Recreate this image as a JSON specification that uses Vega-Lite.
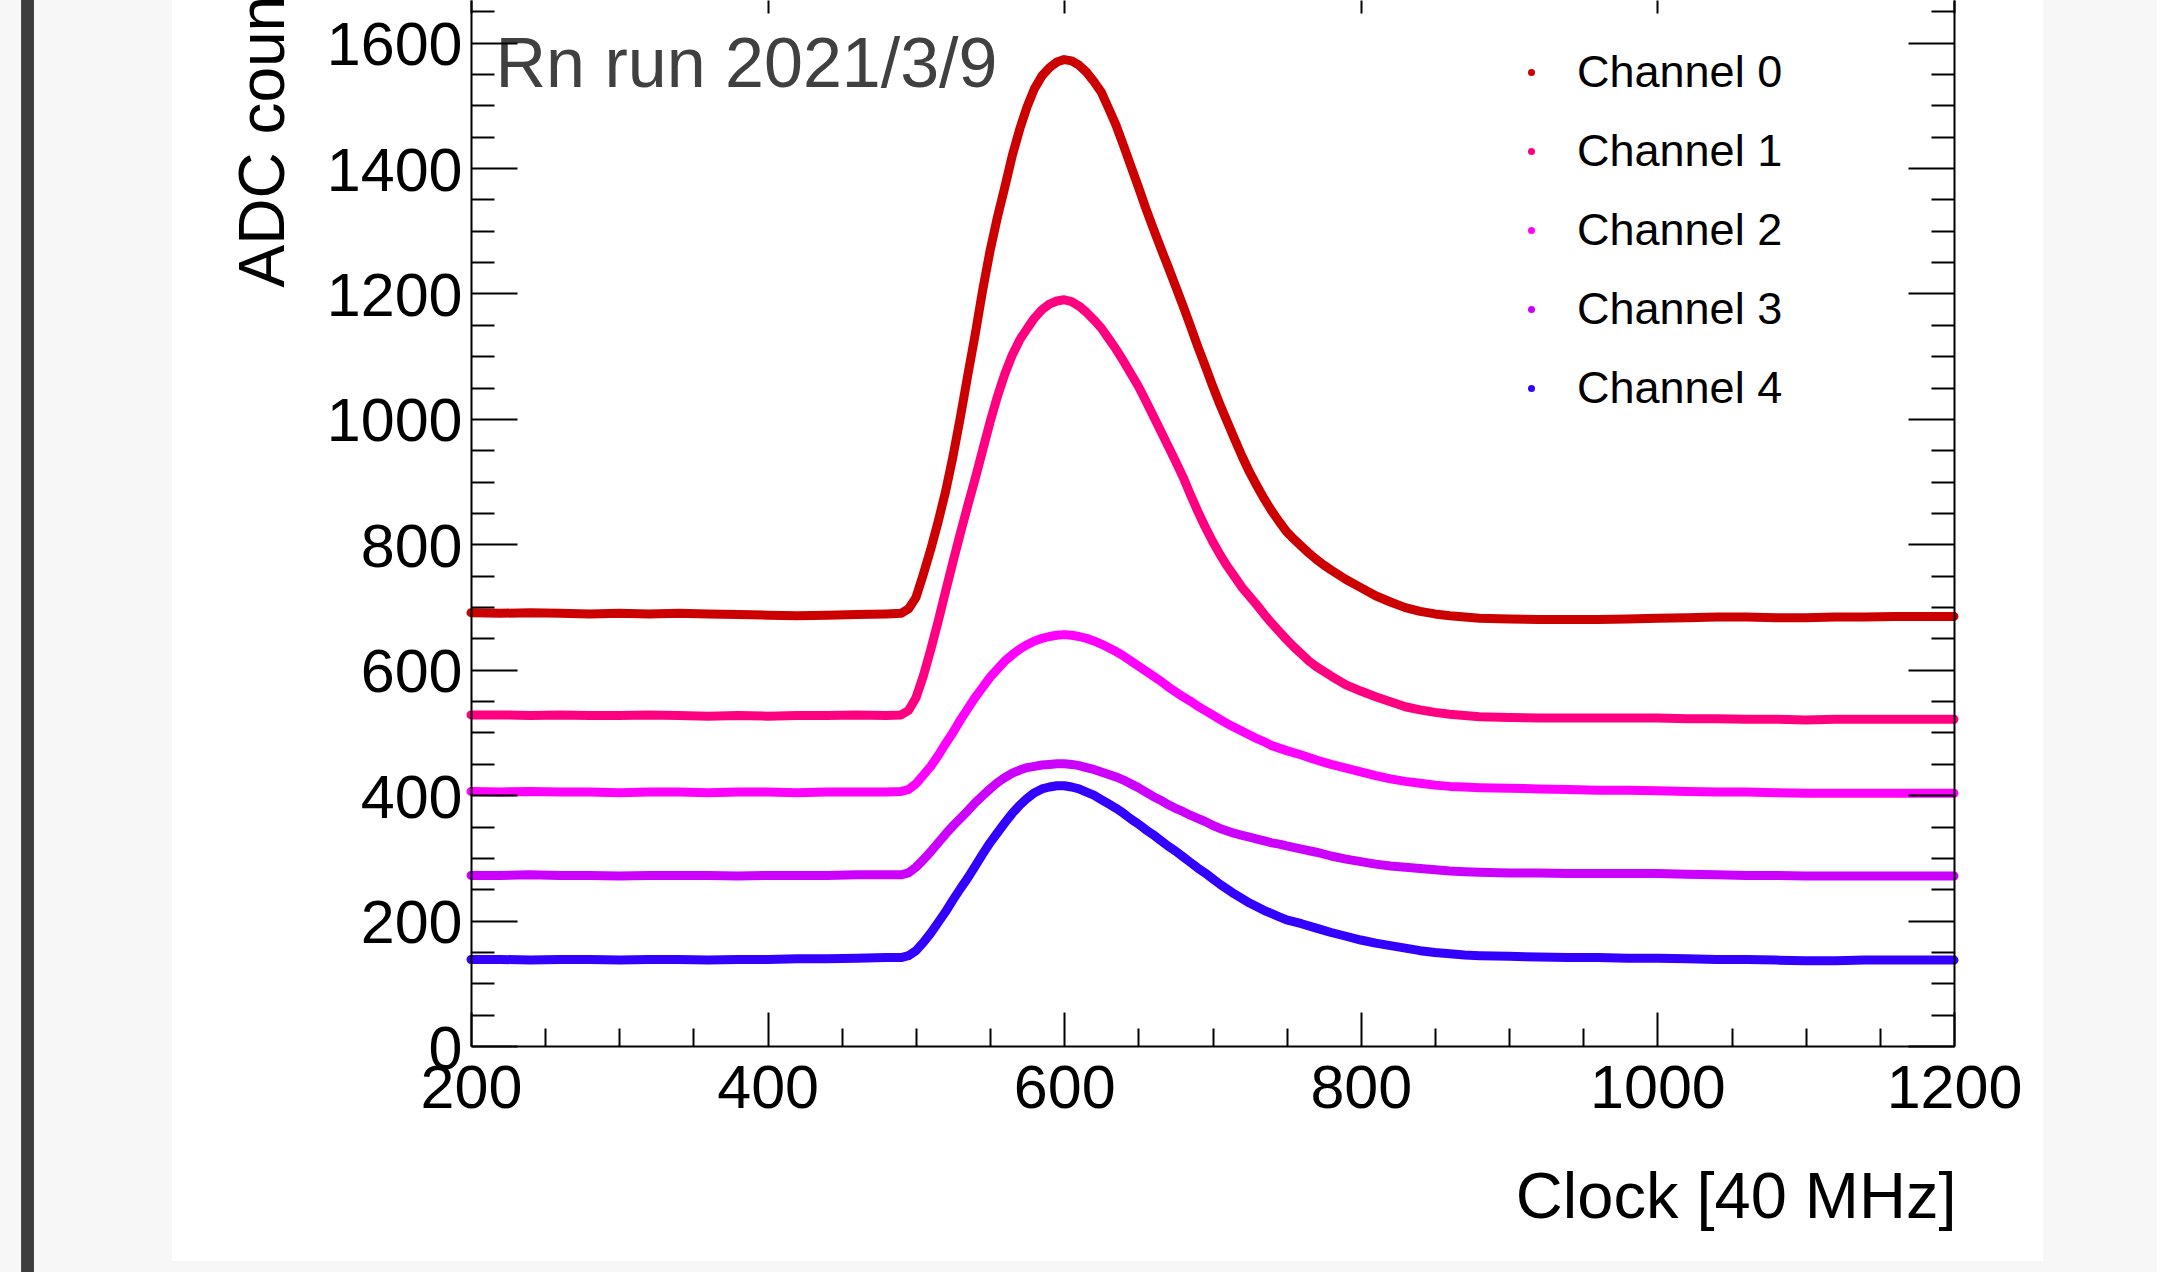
{
"$schema": "https://vega.github.io/schema/vega-lite/v6.json",
"width": 1483,
"height": 1046,
"autosize": {"type": "none"},
"padding": {"left": 471, "top": 0, "right": 203, "bottom": 226},
"background": "#ffffff",
"config": {
  "view": {"stroke": null},
  "font": "Liberation Sans",
  "axis": {"domainColor": "#000000", "domainWidth": 2, "tickColor": "#000000", "tickWidth": 2, "grid": false, "labelFont": "Liberation Sans", "labelFontSize": 61, "labelColor": "#000000", "titleFont": "Liberation Sans", "titleFontWeight": "normal", "titleColor": "#000000", "labelFlush": false, "labelOverlap": false, "labelBound": false, "zindex": 1, "format": "d"}
},
"datasets": {
"sig": [
{"c":0,"x":200,"y":691},{"c":0,"x":220,"y":690},{"c":0,"x":240,"y":691},{"c":0,"x":260,"y":690},{"c":0,"x":280,"y":689},{"c":0,"x":300,"y":690},{"c":0,"x":320,"y":689},{"c":0,"x":340,"y":690},{"c":0,"x":360,"y":689},{"c":0,"x":380,"y":688},{"c":0,"x":400,"y":687},{"c":0,"x":420,"y":686},{"c":0,"x":440,"y":687},{"c":0,"x":460,"y":688},{"c":0,"x":480,"y":689},{"c":0,"x":490,"y":690},{"c":0,"x":495,"y":697},{"c":0,"x":500,"y":715},{"c":0,"x":505,"y":752},{"c":0,"x":510,"y":792},{"c":0,"x":515,"y":836},{"c":0,"x":520,"y":884},{"c":0,"x":525,"y":940},{"c":0,"x":530,"y":1003},{"c":0,"x":535,"y":1070},{"c":0,"x":540,"y":1135},{"c":0,"x":545,"y":1205},{"c":0,"x":550,"y":1268},{"c":0,"x":555,"y":1322},{"c":0,"x":560,"y":1370},{"c":0,"x":565,"y":1420},{"c":0,"x":570,"y":1462},{"c":0,"x":575,"y":1498},{"c":0,"x":580,"y":1527},{"c":0,"x":585,"y":1547},{"c":0,"x":590,"y":1560},{"c":0,"x":595,"y":1569},{"c":0,"x":600,"y":1573},{"c":0,"x":605,"y":1571},{"c":0,"x":610,"y":1564},{"c":0,"x":615,"y":1553},{"c":0,"x":620,"y":1538},{"c":0,"x":625,"y":1521},{"c":0,"x":630,"y":1495},{"c":0,"x":635,"y":1468},{"c":0,"x":640,"y":1436},{"c":0,"x":645,"y":1403},{"c":0,"x":650,"y":1370},{"c":0,"x":655,"y":1336},{"c":0,"x":660,"y":1304},{"c":0,"x":665,"y":1273},{"c":0,"x":670,"y":1243},{"c":0,"x":675,"y":1212},{"c":0,"x":680,"y":1181},{"c":0,"x":685,"y":1149},{"c":0,"x":690,"y":1116},{"c":0,"x":695,"y":1085},{"c":0,"x":700,"y":1053},{"c":0,"x":705,"y":1023},{"c":0,"x":710,"y":995},{"c":0,"x":715,"y":967},{"c":0,"x":720,"y":940},{"c":0,"x":725,"y":915},{"c":0,"x":730,"y":893},{"c":0,"x":735,"y":872},{"c":0,"x":740,"y":853},{"c":0,"x":745,"y":836},{"c":0,"x":750,"y":820},{"c":0,"x":755,"y":808},{"c":0,"x":760,"y":797},{"c":0,"x":765,"y":786},{"c":0,"x":770,"y":776},{"c":0,"x":775,"y":767},{"c":0,"x":780,"y":759},{"c":0,"x":790,"y":744},{"c":0,"x":800,"y":731},{"c":0,"x":810,"y":718},{"c":0,"x":820,"y":708},{"c":0,"x":830,"y":699},{"c":0,"x":840,"y":693},{"c":0,"x":850,"y":689},{"c":0,"x":860,"y":686},{"c":0,"x":870,"y":684},{"c":0,"x":880,"y":682},{"c":0,"x":900,"y":681},{"c":0,"x":920,"y":680},{"c":0,"x":940,"y":680},{"c":0,"x":960,"y":680},{"c":0,"x":980,"y":681},{"c":0,"x":1000,"y":682},{"c":0,"x":1020,"y":683},{"c":0,"x":1040,"y":684},{"c":0,"x":1060,"y":684},{"c":0,"x":1080,"y":683},{"c":0,"x":1100,"y":683},{"c":0,"x":1120,"y":684},{"c":0,"x":1140,"y":684},{"c":0,"x":1160,"y":685},{"c":0,"x":1180,"y":685},{"c":0,"x":1200,"y":685},
{"c":1,"x":200,"y":528},{"c":1,"x":220,"y":528},{"c":1,"x":240,"y":527},{"c":1,"x":260,"y":528},{"c":1,"x":280,"y":527},{"c":1,"x":300,"y":527},{"c":1,"x":320,"y":528},{"c":1,"x":340,"y":527},{"c":1,"x":360,"y":526},{"c":1,"x":380,"y":527},{"c":1,"x":400,"y":526},{"c":1,"x":420,"y":527},{"c":1,"x":440,"y":527},{"c":1,"x":460,"y":528},{"c":1,"x":480,"y":527},{"c":1,"x":490,"y":528},{"c":1,"x":495,"y":535},{"c":1,"x":500,"y":555},{"c":1,"x":505,"y":590},{"c":1,"x":510,"y":632},{"c":1,"x":515,"y":677},{"c":1,"x":520,"y":725},{"c":1,"x":525,"y":772},{"c":1,"x":530,"y":818},{"c":1,"x":535,"y":862},{"c":1,"x":540,"y":905},{"c":1,"x":545,"y":950},{"c":1,"x":550,"y":995},{"c":1,"x":555,"y":1036},{"c":1,"x":560,"y":1072},{"c":1,"x":565,"y":1102},{"c":1,"x":570,"y":1126},{"c":1,"x":575,"y":1144},{"c":1,"x":580,"y":1161},{"c":1,"x":585,"y":1174},{"c":1,"x":590,"y":1183},{"c":1,"x":595,"y":1188},{"c":1,"x":600,"y":1190},{"c":1,"x":605,"y":1187},{"c":1,"x":610,"y":1180},{"c":1,"x":615,"y":1170},{"c":1,"x":620,"y":1158},{"c":1,"x":625,"y":1145},{"c":1,"x":630,"y":1128},{"c":1,"x":635,"y":1111},{"c":1,"x":640,"y":1092},{"c":1,"x":645,"y":1072},{"c":1,"x":650,"y":1052},{"c":1,"x":655,"y":1029},{"c":1,"x":660,"y":1005},{"c":1,"x":665,"y":981},{"c":1,"x":670,"y":957},{"c":1,"x":675,"y":933},{"c":1,"x":680,"y":908},{"c":1,"x":685,"y":880},{"c":1,"x":690,"y":853},{"c":1,"x":695,"y":828},{"c":1,"x":700,"y":805},{"c":1,"x":705,"y":784},{"c":1,"x":710,"y":765},{"c":1,"x":715,"y":748},{"c":1,"x":720,"y":731},{"c":1,"x":725,"y":717},{"c":1,"x":730,"y":703},{"c":1,"x":735,"y":688},{"c":1,"x":740,"y":674},{"c":1,"x":745,"y":661},{"c":1,"x":750,"y":648},{"c":1,"x":755,"y":636},{"c":1,"x":760,"y":625},{"c":1,"x":765,"y":614},{"c":1,"x":770,"y":605},{"c":1,"x":780,"y":590},{"c":1,"x":790,"y":576},{"c":1,"x":800,"y":566},{"c":1,"x":810,"y":557},{"c":1,"x":820,"y":549},{"c":1,"x":830,"y":541},{"c":1,"x":840,"y":536},{"c":1,"x":850,"y":532},{"c":1,"x":860,"y":529},{"c":1,"x":870,"y":527},{"c":1,"x":880,"y":525},{"c":1,"x":900,"y":524},{"c":1,"x":920,"y":523},{"c":1,"x":940,"y":523},{"c":1,"x":960,"y":523},{"c":1,"x":980,"y":523},{"c":1,"x":1000,"y":523},{"c":1,"x":1020,"y":522},{"c":1,"x":1040,"y":522},{"c":1,"x":1060,"y":521},{"c":1,"x":1080,"y":521},{"c":1,"x":1100,"y":520},{"c":1,"x":1120,"y":521},{"c":1,"x":1140,"y":521},{"c":1,"x":1160,"y":521},{"c":1,"x":1180,"y":521},{"c":1,"x":1200,"y":521},
{"c":2,"x":200,"y":406},{"c":2,"x":220,"y":405},{"c":2,"x":240,"y":406},{"c":2,"x":260,"y":405},{"c":2,"x":280,"y":405},{"c":2,"x":300,"y":404},{"c":2,"x":320,"y":405},{"c":2,"x":340,"y":405},{"c":2,"x":360,"y":404},{"c":2,"x":380,"y":405},{"c":2,"x":400,"y":405},{"c":2,"x":420,"y":404},{"c":2,"x":440,"y":405},{"c":2,"x":460,"y":405},{"c":2,"x":480,"y":405},{"c":2,"x":490,"y":406},{"c":2,"x":495,"y":409},{"c":2,"x":500,"y":418},{"c":2,"x":505,"y":432},{"c":2,"x":510,"y":446},{"c":2,"x":515,"y":463},{"c":2,"x":520,"y":482},{"c":2,"x":525,"y":500},{"c":2,"x":530,"y":520},{"c":2,"x":535,"y":538},{"c":2,"x":540,"y":556},{"c":2,"x":545,"y":572},{"c":2,"x":550,"y":588},{"c":2,"x":555,"y":601},{"c":2,"x":560,"y":614},{"c":2,"x":565,"y":624},{"c":2,"x":570,"y":633},{"c":2,"x":575,"y":640},{"c":2,"x":580,"y":646},{"c":2,"x":585,"y":650},{"c":2,"x":590,"y":653},{"c":2,"x":595,"y":655},{"c":2,"x":600,"y":656},{"c":2,"x":605,"y":655},{"c":2,"x":610,"y":653},{"c":2,"x":615,"y":650},{"c":2,"x":620,"y":646},{"c":2,"x":625,"y":641},{"c":2,"x":630,"y":635},{"c":2,"x":635,"y":629},{"c":2,"x":640,"y":622},{"c":2,"x":645,"y":614},{"c":2,"x":650,"y":606},{"c":2,"x":655,"y":598},{"c":2,"x":660,"y":590},{"c":2,"x":665,"y":582},{"c":2,"x":670,"y":573},{"c":2,"x":675,"y":565},{"c":2,"x":680,"y":557},{"c":2,"x":685,"y":550},{"c":2,"x":690,"y":542},{"c":2,"x":695,"y":535},{"c":2,"x":700,"y":528},{"c":2,"x":705,"y":521},{"c":2,"x":710,"y":514},{"c":2,"x":715,"y":508},{"c":2,"x":720,"y":502},{"c":2,"x":725,"y":496},{"c":2,"x":730,"y":490},{"c":2,"x":735,"y":485},{"c":2,"x":740,"y":479},{"c":2,"x":745,"y":475},{"c":2,"x":750,"y":471},{"c":2,"x":760,"y":464},{"c":2,"x":770,"y":456},{"c":2,"x":780,"y":449},{"c":2,"x":790,"y":443},{"c":2,"x":800,"y":437},{"c":2,"x":810,"y":431},{"c":2,"x":820,"y":426},{"c":2,"x":830,"y":422},{"c":2,"x":840,"y":419},{"c":2,"x":850,"y":416},{"c":2,"x":860,"y":414},{"c":2,"x":870,"y":413},{"c":2,"x":880,"y":412},{"c":2,"x":900,"y":411},{"c":2,"x":920,"y":410},{"c":2,"x":940,"y":409},{"c":2,"x":960,"y":408},{"c":2,"x":980,"y":408},{"c":2,"x":1000,"y":407},{"c":2,"x":1020,"y":406},{"c":2,"x":1040,"y":405},{"c":2,"x":1060,"y":405},{"c":2,"x":1080,"y":404},{"c":2,"x":1100,"y":403},{"c":2,"x":1120,"y":403},{"c":2,"x":1140,"y":403},{"c":2,"x":1160,"y":403},{"c":2,"x":1180,"y":403},{"c":2,"x":1200,"y":403},
{"c":3,"x":200,"y":272},{"c":3,"x":220,"y":272},{"c":3,"x":240,"y":273},{"c":3,"x":260,"y":272},{"c":3,"x":280,"y":272},{"c":3,"x":300,"y":271},{"c":3,"x":320,"y":272},{"c":3,"x":340,"y":272},{"c":3,"x":360,"y":272},{"c":3,"x":380,"y":271},{"c":3,"x":400,"y":272},{"c":3,"x":420,"y":272},{"c":3,"x":440,"y":272},{"c":3,"x":460,"y":273},{"c":3,"x":480,"y":273},{"c":3,"x":490,"y":273},{"c":3,"x":495,"y":276},{"c":3,"x":500,"y":285},{"c":3,"x":505,"y":297},{"c":3,"x":510,"y":310},{"c":3,"x":515,"y":324},{"c":3,"x":520,"y":338},{"c":3,"x":525,"y":351},{"c":3,"x":530,"y":363},{"c":3,"x":535,"y":375},{"c":3,"x":540,"y":388},{"c":3,"x":545,"y":399},{"c":3,"x":550,"y":410},{"c":3,"x":555,"y":420},{"c":3,"x":560,"y":428},{"c":3,"x":565,"y":435},{"c":3,"x":570,"y":440},{"c":3,"x":575,"y":444},{"c":3,"x":580,"y":446},{"c":3,"x":585,"y":448},{"c":3,"x":590,"y":449},{"c":3,"x":595,"y":450},{"c":3,"x":600,"y":450},{"c":3,"x":605,"y":449},{"c":3,"x":610,"y":447},{"c":3,"x":615,"y":444},{"c":3,"x":620,"y":441},{"c":3,"x":625,"y":437},{"c":3,"x":630,"y":433},{"c":3,"x":635,"y":429},{"c":3,"x":640,"y":424},{"c":3,"x":645,"y":418},{"c":3,"x":650,"y":412},{"c":3,"x":655,"y":405},{"c":3,"x":660,"y":398},{"c":3,"x":665,"y":392},{"c":3,"x":670,"y":385},{"c":3,"x":675,"y":379},{"c":3,"x":680,"y":374},{"c":3,"x":685,"y":368},{"c":3,"x":690,"y":363},{"c":3,"x":695,"y":358},{"c":3,"x":700,"y":352},{"c":3,"x":705,"y":347},{"c":3,"x":710,"y":343},{"c":3,"x":715,"y":339},{"c":3,"x":720,"y":336},{"c":3,"x":725,"y":333},{"c":3,"x":730,"y":330},{"c":3,"x":735,"y":327},{"c":3,"x":740,"y":324},{"c":3,"x":745,"y":322},{"c":3,"x":750,"y":319},{"c":3,"x":760,"y":314},{"c":3,"x":770,"y":309},{"c":3,"x":780,"y":303},{"c":3,"x":790,"y":298},{"c":3,"x":800,"y":294},{"c":3,"x":810,"y":290},{"c":3,"x":820,"y":287},{"c":3,"x":830,"y":285},{"c":3,"x":840,"y":283},{"c":3,"x":850,"y":281},{"c":3,"x":860,"y":279},{"c":3,"x":870,"y":278},{"c":3,"x":880,"y":277},{"c":3,"x":900,"y":276},{"c":3,"x":920,"y":276},{"c":3,"x":940,"y":275},{"c":3,"x":960,"y":275},{"c":3,"x":980,"y":275},{"c":3,"x":1000,"y":275},{"c":3,"x":1020,"y":274},{"c":3,"x":1040,"y":273},{"c":3,"x":1060,"y":272},{"c":3,"x":1080,"y":272},{"c":3,"x":1100,"y":271},{"c":3,"x":1120,"y":271},{"c":3,"x":1140,"y":271},{"c":3,"x":1160,"y":271},{"c":3,"x":1180,"y":271},{"c":3,"x":1200,"y":271},
{"c":4,"x":200,"y":138},{"c":4,"x":220,"y":138},{"c":4,"x":240,"y":137},{"c":4,"x":260,"y":138},{"c":4,"x":280,"y":138},{"c":4,"x":300,"y":137},{"c":4,"x":320,"y":138},{"c":4,"x":340,"y":138},{"c":4,"x":360,"y":137},{"c":4,"x":380,"y":138},{"c":4,"x":400,"y":138},{"c":4,"x":420,"y":139},{"c":4,"x":440,"y":139},{"c":4,"x":460,"y":140},{"c":4,"x":480,"y":141},{"c":4,"x":490,"y":141},{"c":4,"x":495,"y":144},{"c":4,"x":500,"y":152},{"c":4,"x":505,"y":165},{"c":4,"x":510,"y":180},{"c":4,"x":515,"y":197},{"c":4,"x":520,"y":214},{"c":4,"x":525,"y":233},{"c":4,"x":530,"y":251},{"c":4,"x":535,"y":268},{"c":4,"x":540,"y":287},{"c":4,"x":545,"y":306},{"c":4,"x":550,"y":324},{"c":4,"x":555,"y":340},{"c":4,"x":560,"y":356},{"c":4,"x":565,"y":371},{"c":4,"x":570,"y":384},{"c":4,"x":575,"y":395},{"c":4,"x":580,"y":404},{"c":4,"x":585,"y":410},{"c":4,"x":590,"y":413},{"c":4,"x":595,"y":415},{"c":4,"x":600,"y":415},{"c":4,"x":605,"y":413},{"c":4,"x":610,"y":410},{"c":4,"x":615,"y":405},{"c":4,"x":620,"y":400},{"c":4,"x":625,"y":393},{"c":4,"x":630,"y":386},{"c":4,"x":635,"y":379},{"c":4,"x":640,"y":371},{"c":4,"x":645,"y":362},{"c":4,"x":650,"y":354},{"c":4,"x":655,"y":345},{"c":4,"x":660,"y":337},{"c":4,"x":665,"y":328},{"c":4,"x":670,"y":319},{"c":4,"x":675,"y":311},{"c":4,"x":680,"y":302},{"c":4,"x":685,"y":293},{"c":4,"x":690,"y":284},{"c":4,"x":695,"y":276},{"c":4,"x":700,"y":267},{"c":4,"x":705,"y":258},{"c":4,"x":710,"y":250},{"c":4,"x":715,"y":242},{"c":4,"x":720,"y":235},{"c":4,"x":725,"y":228},{"c":4,"x":730,"y":222},{"c":4,"x":735,"y":216},{"c":4,"x":740,"y":211},{"c":4,"x":745,"y":206},{"c":4,"x":750,"y":201},{"c":4,"x":760,"y":195},{"c":4,"x":770,"y":188},{"c":4,"x":780,"y":181},{"c":4,"x":790,"y":175},{"c":4,"x":800,"y":169},{"c":4,"x":810,"y":164},{"c":4,"x":820,"y":160},{"c":4,"x":830,"y":156},{"c":4,"x":840,"y":152},{"c":4,"x":850,"y":149},{"c":4,"x":860,"y":147},{"c":4,"x":870,"y":145},{"c":4,"x":880,"y":144},{"c":4,"x":900,"y":143},{"c":4,"x":920,"y":142},{"c":4,"x":940,"y":141},{"c":4,"x":960,"y":141},{"c":4,"x":980,"y":140},{"c":4,"x":1000,"y":140},{"c":4,"x":1020,"y":139},{"c":4,"x":1040,"y":138},{"c":4,"x":1060,"y":138},{"c":4,"x":1080,"y":137},{"c":4,"x":1100,"y":136},{"c":4,"x":1120,"y":136},{"c":4,"x":1140,"y":137},{"c":4,"x":1160,"y":137},{"c":4,"x":1180,"y":137},{"c":4,"x":1200,"y":137}
]
},
"layer": [
{
  "data": {"values": [{"part": "left"}]},
  "mark": {"type": "rect", "color": "#f7f7f7"},
  "encoding": {
    "x": {"datum": -200, "type": "quantitative", "scale": {"domain": [200, 1200], "nice": false, "zero": false}, "axis": null},
    "x2": {"datum": -1.6},
    "y": {"datum": -600, "type": "quantitative", "scale": {"domain": [0, 1668], "nice": false, "zero": false}, "axis": null},
    "y2": {"datum": 1800}
  }
},
{
  "data": {"values": [{"part": "right"}]},
  "mark": {"type": "rect", "color": "#f7f7f7"},
  "encoding": {
    "x": {"datum": 1260, "type": "quantitative", "scale": {"domain": [200, 1200], "nice": false, "zero": false}, "axis": null},
    "x2": {"datum": 1400},
    "y": {"datum": -600, "type": "quantitative", "scale": {"domain": [0, 1668], "nice": false, "zero": false}, "axis": null},
    "y2": {"datum": 1800}
  }
},
{
  "data": {"values": [{"part": "bottom"}]},
  "mark": {"type": "rect", "color": "#f7f7f7"},
  "encoding": {
    "x": {"datum": -200, "type": "quantitative", "scale": {"domain": [200, 1200], "nice": false, "zero": false}, "axis": null},
    "x2": {"datum": 1400},
    "y": {"datum": -600, "type": "quantitative", "scale": {"domain": [0, 1668], "nice": false, "zero": false}, "axis": null},
    "y2": {"datum": -342.7}
  }
},
{
  "data": {"values": [{"part": "bar"}]},
  "mark": {"type": "rect", "color": "#3c3e3d"},
  "encoding": {
    "x": {"datum": -103.4, "type": "quantitative", "scale": {"domain": [200, 1200], "nice": false, "zero": false}, "axis": null},
    "x2": {"datum": -94.7},
    "y": {"datum": -600, "type": "quantitative", "scale": {"domain": [0, 1668], "nice": false, "zero": false}, "axis": null},
    "y2": {"datum": 1800}
  }
},
{
  "data": {"name": "sig"},
  "mark": {"type": "line", "strokeWidth": 9, "strokeCap": "round", "strokeJoin": "round"},
  "encoding": {
    "x": {"field": "x", "type": "quantitative", "scale": {"domain": [200, 1200], "nice": false, "zero": false},
      "axis": {"orient": "bottom", "zindex": 1, "format": "d", "values": [200, 400, 600, 800, 1000, 1200], "ticks": false, "tickSize": 0, "labelPadding": 13, "domain": true,
        "title": "Clock [40 MHz]", "titleFontSize": 65, "titleAlign": "right", "titleBaseline": "alphabetic", "titleX": 1485, "titleY": 171, "titleAngle": 0}},
    "y": {"field": "y", "type": "quantitative", "scale": {"domain": [0, 1668], "nice": false, "zero": false},
      "axis": {"orient": "left", "zindex": 1, "format": "d", "values": [0, 200, 400, 600, 800, 1000, 1200, 1400, 1600], "ticks": false, "tickSize": 0, "labelPadding": 9, "labelOffset": 4, "domain": true,
        "title": "ADC counts", "titleFontSize": 64, "titleAngle": 270, "titleAlign": "left", "titleBaseline": "alphabetic", "titleX": -188, "titleY": 287}},
    "color": {"field": "c", "type": "nominal",
      "scale": {"domain": [0, 1, 2, 3, 4], "range": ["#cc0000", "#ff0080", "#ff00ff", "#cc00ff", "#3300ff"]},
      "legend": {"orient": "none", "legendX": 1038, "legendY": 50, "title": null, "padding": 0, "symbolType": "circle", "symbolSize": 49, "symbolStrokeWidth": 0,
        "labelFont": "Liberation Sans", "labelFontSize": 45, "labelColor": "#000000", "labelOffset": 23, "labelLimit": 0, "rowPadding": 33, "labelExpr": "'Channel ' + datum.label", "zindex": 1,
        "encode": {"symbols": {"update": {"fill": {"scale": "color", "field": "value"}, "stroke": {"value": "transparent"}}}}}}
  }
},
{
  "data": {"values": [{"label": "Rn run 2021/3/9"}]},
  "mark": {"type": "text", "align": "left", "baseline": "alphabetic", "fontSize": 70, "font": "Liberation Sans", "color": "#404040"},
  "encoding": {
    "x": {"datum": 216.5, "type": "quantitative", "scale": {"domain": [200, 1200], "nice": false, "zero": false}, "axis": null},
    "y": {"datum": 1530, "type": "quantitative", "scale": {"domain": [0, 1668], "nice": false, "zero": false}, "axis": null},
    "text": {"field": "label"}
  }
},
{
  "data": {"values": [{}]},
  "mark": {"type": "point", "opacity": 0},
  "encoding": {
    "x": {"datum": 600, "type": "quantitative", "scale": {"domain": [200, 1200], "nice": false, "zero": false},
      "axis": {"orient": "bottom", "zindex": 1, "values": [250, 300, 350, 450, 500, 550, 650, 700, 750, 850, 900, 950, 1050, 1100, 1150], "tickSize": -18, "labels": false, "domain": false, "title": null}},
    "y": {"datum": 800, "type": "quantitative", "scale": {"domain": [0, 1668], "nice": false, "zero": false},
      "axis": {"orient": "right", "zindex": 1, "values": [50, 100, 150, 250, 300, 350, 450, 500, 550, 650, 700, 750, 850, 900, 950, 1050, 1100, 1150, 1250, 1300, 1350, 1450, 1500, 1550, 1650], "tickSize": -23, "labels": false, "domain": true, "title": null}}
  }
},
{
  "data": {"values": [{}]},
  "mark": {"type": "point", "opacity": 0},
  "encoding": {
    "x": {"datum": 600, "type": "quantitative", "scale": {"domain": [200, 1200], "nice": false, "zero": false},
      "axis": {"orient": "bottom", "zindex": 1, "values": [200, 400, 600, 800, 1000, 1200], "tickSize": -34, "labels": false, "domain": false, "title": null}},
    "y": {"datum": 800, "type": "quantitative", "scale": {"domain": [0, 1668], "nice": false, "zero": false},
      "axis": {"orient": "right", "zindex": 1, "values": [0, 200, 400, 600, 800, 1000, 1200, 1400, 1600], "tickSize": -46, "labels": false, "domain": false, "title": null}}
  }
},
{
  "data": {"values": [{}]},
  "mark": {"type": "point", "opacity": 0},
  "encoding": {
    "x": {"datum": 600, "type": "quantitative", "scale": {"domain": [200, 1200], "nice": false, "zero": false},
      "axis": {"orient": "top", "zindex": 1, "values": [200, 400, 600, 800, 1000, 1200], "tickSize": -13, "labels": false, "domain": false, "title": null}},
    "y": {"datum": 800, "type": "quantitative", "scale": {"domain": [0, 1668], "nice": false, "zero": false},
      "axis": {"orient": "left", "zindex": 1, "values": [50, 100, 150, 250, 300, 350, 450, 500, 550, 650, 700, 750, 850, 900, 950, 1050, 1100, 1150, 1250, 1300, 1350, 1450, 1500, 1550, 1650], "tickSize": -23, "labels": false, "domain": false, "title": null}}
  }
},
{
  "data": {"values": [{}]},
  "mark": {"type": "point", "opacity": 0},
  "encoding": {
    "x": {"datum": 600, "type": "quantitative", "scale": {"domain": [200, 1200], "nice": false, "zero": false}, "axis": null},
    "y": {"datum": 800, "type": "quantitative", "scale": {"domain": [0, 1668], "nice": false, "zero": false},
      "axis": {"orient": "left", "zindex": 1, "values": [0, 200, 400, 600, 800, 1000, 1200, 1400, 1600], "tickSize": -46, "labels": false, "domain": false, "title": null}}
  }
}
],
"resolve": {"axis": {"x": "independent", "y": "independent"}}
}
